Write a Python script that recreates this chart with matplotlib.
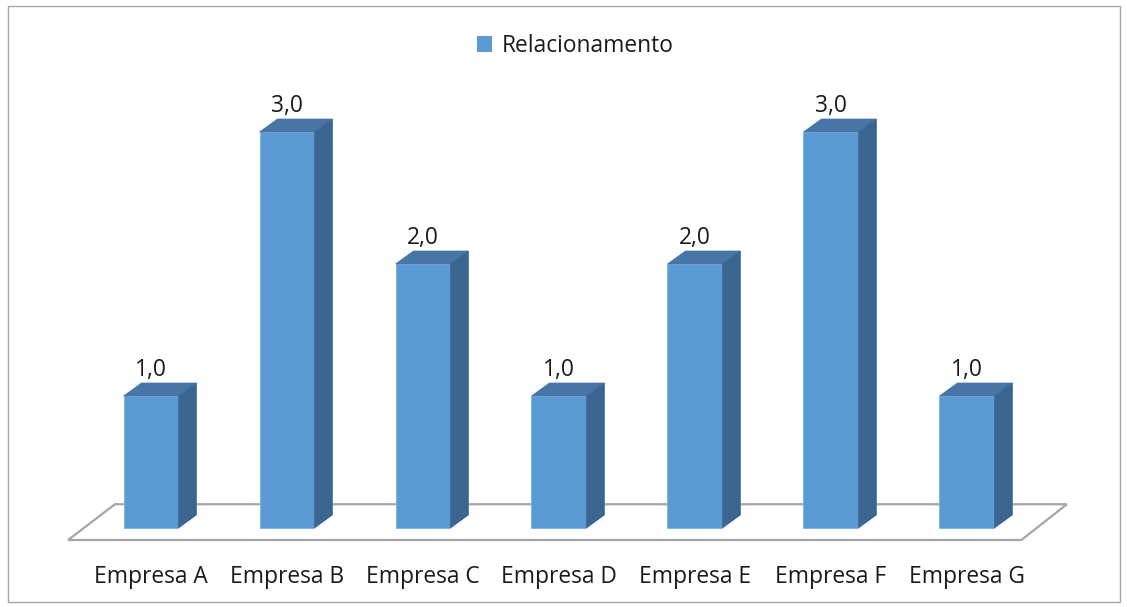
import matplotlib
matplotlib.use("Agg")
import matplotlib.pyplot as plt
from matplotlib.patches import Polygon, Patch, Rectangle

categorias = ["Empresa A", "Empresa B", "Empresa C", "Empresa D",
              "Empresa E", "Empresa F", "Empresa G"]
valores = [1.0, 3.0, 2.0, 1.0, 2.0, 3.0, 1.0]
serie = "Relacionamento"

COR_FRENTE = "#5B9BD5"
COR_TOPO = "#4675A6"
COR_LADO = "#3A6590"
FONTE = ["Open Sans", "DejaVu Sans"]
TAM = 16.4

plt.rcParams["font.family"] = FONTE

fig = plt.figure(figsize=(11.27, 6.07), dpi=100, facecolor="white")
ax = fig.add_axes([0.04348, 0.02142, 0.9050, 0.8916])
ax.set_xlim(-0.75, 6.75)
ax.set_ylim(-0.5, 3.6)
ax.axis("off")

larg = 0.404
dx, dy = 0.132, 0.0985

# piso (parallelogram)
piso = Polygon([(-0.61, -0.091), (6.40, -0.091), (6.735, 0.18), (-0.265, 0.18)],
               closed=True, facecolor="white", edgecolor="#a6a6a6", lw=1.6,
               zorder=1, clip_on=False)
ax.add_patch(piso)

x = list(range(len(categorias)))
ax.bar(x, valores, width=larg, color=COR_FRENTE, edgecolor="#7fb0de",
       linewidth=0.6, zorder=3)

for xi, v, cat in zip(x, valores, categorias):
    l, r = xi - larg / 2, xi + larg / 2
    topo = Polygon([(l, v), (r, v), (r + dx, v + dy), (l + dx, v + dy)],
                   closed=True, facecolor=COR_TOPO, edgecolor=COR_TOPO, lw=0.5, zorder=3)
    lado = Polygon([(r, 0), (r + dx, dy), (r + dx, v + dy), (r, v)],
                   closed=True, facecolor=COR_LADO, edgecolor=COR_LADO, lw=0.5, zorder=3)
    ax.add_patch(topo)
    ax.add_patch(lado)
    ax.text(xi, v + dy + 0.01, f"{v:.1f}".replace(".", ","), ha="center", va="bottom",
            fontsize=TAM, color="#1a1a1a", zorder=4)
    ax.text(xi, -0.37, cat, ha="center", va="center", fontsize=TAM, color="#1a1a1a")

fig.legend(handles=[Patch(facecolor=COR_FRENTE, edgecolor="none", label=serie)],
           loc="center", bbox_to_anchor=(575 / 1127, 1 - 46 / 607), frameon=False,
           fontsize=TAM, handlelength=0.7, handleheight=0.7, handletextpad=0.4,
           labelcolor="#1a1a1a")

fig.patches.append(Rectangle((8 / 1127, 5 / 607), 1112 / 1127, 596 / 607,
                             transform=fig.transFigure, fill=False,
                             edgecolor="#a6a6a6", lw=1.0))

fig.savefig("out.png", dpi=100, facecolor="white")
